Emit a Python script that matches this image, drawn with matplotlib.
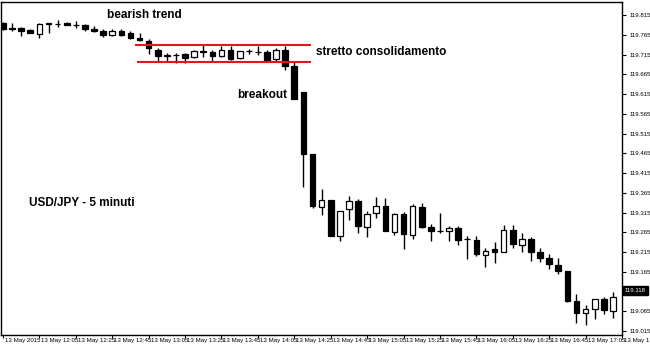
import matplotlib
matplotlib.use("Agg")
import matplotlib.pyplot as plt
import matplotlib.transforms as mtransforms
import numpy as np

plt.rcParams['font.family'] = ['Liberation Sans', 'DejaVu Sans']

# 5-minute USD/JPY candles, 13 May 2015, starting 11:45
opens = [119.795, 119.783, 119.783, 119.778, 119.768, 119.793, 119.793, 119.795, 119.790, 119.791,
         119.781, 119.776, 119.766, 119.775, 119.771, 119.758, 119.749, 119.727, 119.712, 119.715,
         119.716, 119.710, 119.721, 119.722, 119.712, 119.726, 119.707, 119.724, 119.722, 119.722,
         119.704, 119.727, 119.687, 119.621, 119.463, 119.330, 119.347, 119.256, 119.323, 119.345,
         119.278, 119.315, 119.333, 119.266, 119.311, 119.259, 119.330, 119.278, 119.268, 119.269,
         119.275, 119.248, 119.246, 119.207, 119.222, 119.215, 119.271, 119.234, 119.248, 119.215,
         119.199, 119.182, 119.167, 119.091, 119.061, 119.072, 119.096, 119.067]
highs = [119.798, 119.795, 119.786, 119.781, 119.796, 119.796, 119.803, 119.798, 119.800, 119.793,
         119.788, 119.781, 119.780, 119.780, 119.776, 119.770, 119.754, 119.731, 119.719, 119.719,
         119.719, 119.727, 119.741, 119.727, 119.736, 119.736, 119.724, 119.729, 119.736, 119.727,
         119.731, 119.737, 119.700, 119.621, 119.463, 119.374, 119.347, 119.320, 119.357, 119.350,
         119.320, 119.354, 119.352, 119.315, 119.316, 119.337, 119.340, 119.285, 119.315, 119.281,
         119.281, 119.256, 119.256, 119.226, 119.241, 119.283, 119.283, 119.263, 119.253, 119.226,
         119.210, 119.199, 119.167, 119.108, 119.081, 119.096, 119.101, 119.115]
lows = [119.778, 119.775, 119.763, 119.770, 119.757, 119.771, 119.786, 119.790, 119.783, 119.776,
        119.773, 119.760, 119.763, 119.763, 119.754, 119.751, 119.717, 119.700, 119.700, 119.694,
        119.694, 119.707, 119.710, 119.699, 119.710, 119.702, 119.705, 119.717, 119.714, 119.697,
        119.700, 119.676, 119.603, 119.381, 119.327, 119.308, 119.256, 119.243, 119.296, 119.263,
        119.254, 119.301, 119.269, 119.259, 119.222, 119.249, 119.276, 119.243, 119.264, 119.244,
        119.232, 119.197, 119.204, 119.177, 119.187, 119.215, 119.226, 119.215, 119.192, 119.189,
        119.172, 119.160, 119.088, 119.035, 119.030, 119.045, 119.057, 119.047]
closes = [119.780, 119.780, 119.776, 119.771, 119.793, 119.795, 119.793, 119.791, 119.790, 119.781,
          119.776, 119.765, 119.775, 119.766, 119.758, 119.753, 119.731, 119.712, 119.715, 119.715,
          119.707, 119.724, 119.724, 119.712, 119.726, 119.705, 119.724, 119.724, 119.722, 119.700,
          119.727, 119.687, 119.604, 119.463, 119.332, 119.347, 119.256, 119.320, 119.345, 119.280,
          119.311, 119.333, 119.269, 119.311, 119.261, 119.332, 119.278, 119.269, 119.268, 119.275,
          119.246, 119.248, 119.210, 119.219, 119.215, 119.271, 119.236, 119.249, 119.215, 119.200,
          119.184, 119.167, 119.091, 119.061, 119.071, 119.096, 119.069, 119.101]

x_tick_labels = ["13 May 2015", "13 May 12:05", "13 May 12:25", "13 May 12:45", "13 May 13:05",
                 "13 May 13:25", "13 May 13:45", "13 May 14:05", "13 May 14:25", "13 May 14:45",
                 "13 May 15:05", "13 May 15:25", "13 May 15:45", "13 May 16:05", "13 May 16:25",
                 "13 May 16:45", "13 May 17:05", "13 May 17:25"]
y_ticks = [119.015, 119.065, 119.165, 119.215, 119.265, 119.315, 119.365, 119.415, 119.465,
           119.515, 119.565, 119.615, 119.665, 119.715, 119.765, 119.815]
current_price = 119.118

# consolidation channel (price levels and bar span)
channel_top = 119.739
channel_bottom = 119.697
channel_start = [14.5, 14.7]
channel_end = 33.8

annotations = [("bearish trend", 107, 15.5),
               ("stretto consolidamento", 316, 52),
               ("breakout", 237, 95),
               ("USD/JPY - 5 minuti", 29, 203)]

W, H = 650, 345
fig = plt.figure(figsize=(W / 100, H / 100), dpi=100)
ax = fig.add_axes([1 / W, 10 / H, 621 / W, 333 / H])

o = np.array(opens); h = np.array(highs); l = np.array(lows); c = np.array(closes)
x = np.arange(len(o))
up = c >= o

ax.vlines(x, l, h, color='black', lw=1.0, zorder=2)
bottoms = np.minimum(o, c)
heights = np.maximum(np.abs(c - o), 0.0005)
colors = np.where(up, 'white', 'black')
ax.bar(x, heights, bottom=bottoms, width=0.62, color=colors, edgecolor='black', linewidth=0.9, zorder=3)

ax.hlines(channel_top, channel_start[0], channel_end, color='#e8141c', lw=1.5, zorder=4)
ax.hlines(channel_bottom, channel_start[1], channel_end, color='#e8141c', lw=1.5, zorder=4)

ax.set_xlim(-0.22, 68.0)
ax.set_ylim(119.005, 119.8486)

small_font = ['Liberation Sans Narrow', 'Liberation Sans', 'DejaVu Sans']

ax.yaxis.tick_right()
ax.set_yticks(y_ticks)
ax.set_yticklabels([f"{v:.3f}" for v in y_ticks], family=small_font)
ax.tick_params(axis='y', direction='out', length=3, width=0.8, labelsize=4.4, pad=2.5, colors='black')
ax.set_xticks(np.arange(0, 4 * len(x_tick_labels), 4))
ax.set_xticklabels(x_tick_labels, family=small_font)
ax.tick_params(axis='x', direction='out', length=2, width=0.8, labelsize=4.4, pad=0, colors='black')
offset = mtransforms.ScaledTranslation(2 / 100, 0, fig.dpi_scale_trans)
for lab in ax.get_xticklabels():
    lab.set_horizontalalignment('left')
    lab.set_transform(lab.get_transform() + offset)
for sp in ax.spines.values():
    sp.set_linewidth(1.0)
    sp.set_color('black')

# current price tag
trans = mtransforms.blended_transform_factory(ax.transAxes, ax.transData)
ax.text(1.0045, current_price, f"{current_price:.3f}", transform=trans, ha='left', va='center',
        fontsize=4.4, family=small_font, color='white', clip_on=False,
        bbox=dict(boxstyle='square,pad=0.35', fc='black', ec='black'))

for txt, px, py in annotations:
    fig.text(px / W, 1 - py / H, txt, ha='left', va='center', fontsize=8.5, fontweight='bold', color='black')

fig.savefig("out.png", dpi=100)
